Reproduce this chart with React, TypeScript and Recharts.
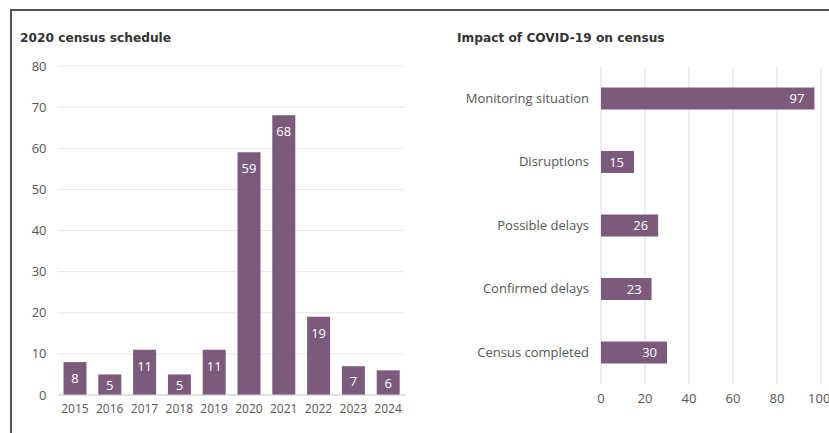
import React from 'react';
import { BarChart, Bar, XAxis, YAxis, CartesianGrid, LabelList } from 'recharts';

const years = ['2015', '2016', '2017', '2018', '2019', '2020', '2021', '2022', '2023', '2024'];
const censusCounts = [8, 5, 11, 5, 11, 59, 68, 19, 7, 6];
const scheduleTicks = [0, 10, 20, 30, 40, 50, 60, 70, 80];

const impactLabels = ['Monitoring situation', 'Disruptions', 'Possible delays', 'Confirmed delays', 'Census completed'];
const impactCounts = [97, 15, 26, 23, 30];
const impactTicks = [0, 20, 40, 60, 80, 100];

const scheduleData = years.map((y, i) => ({ year: y, value: censusCounts[i] }));
const impactData = impactLabels.map((n, i) => ({ name: n, value: impactCounts[i] }));

const BAR = '#7b5a7b';
const FONT = 'Open Sans';
const TICK_FONT = { fontFamily: FONT, fontSize: 13, fill: '#555' };

const TopLabel = (props: any) => {
  const { x, y, width, height, value } = props;
  const cy = Math.min(y + 16, y + height / 2);
  return (
    <text x={x + width / 2} y={cy} textAnchor="middle" dominantBaseline="central" fill="#fff" fontFamily={FONT} fontSize={13}>
      {value}
    </text>
  );
};

const titleStyle: React.CSSProperties = {
  position: 'absolute',
  fontFamily: 'DejaVu Sans',
  fontWeight: 'bold',
  fontSize: 12.2,
  color: '#333',
  lineHeight: '16px',
  top: 30,
  whiteSpace: 'nowrap',
};

export default function App() {
  return (
    <div style={{ position: 'absolute', left: 0, top: 0, width: 829, height: 433, overflow: 'hidden', background: '#fff' }}>
      <div style={{ position: 'absolute', left: 10, top: 9, width: 830, height: 430, borderTop: '2px solid #555', borderLeft: '2px solid #555' }} />
      <div style={{ ...titleStyle, left: 20 }}>2020 census schedule</div>
      <div style={{ ...titleStyle, left: 457 }}>Impact of COVID-19 on census</div>

      <div style={{ position: 'absolute', left: 0, top: 0 }}>
        <BarChart width={420} height={433} data={scheduleData} margin={{ top: 66, right: 14.5, left: 0, bottom: 8 }} barSize={23}>
          <CartesianGrid horizontal vertical={false} stroke="#e8e8e8" />
          <XAxis dataKey="year" tickLine={false} tickSize={0} tickMargin={9} axisLine={{ stroke: '#cfcfcf' }} height={30} tick={{ ...TICK_FONT, fontSize: 12 }} interval={0} />
          <YAxis type="number" domain={[0, 80]} ticks={scheduleTicks} width={57.5} axisLine={false} tickLine={false} tickSize={0} tickMargin={11} tick={TICK_FONT} />
          <Bar dataKey="value" fill={BAR} isAnimationActive={false}>
            <LabelList dataKey="value" content={TopLabel} />
          </Bar>
        </BarChart>
      </div>

      <div style={{ position: 'absolute', left: 420, top: 0 }}>
        <BarChart width={409} height={433} data={impactData} layout="vertical" margin={{ top: 66.5, right: 8, left: 0, bottom: 19 }} barSize={22}>
          <CartesianGrid horizontal={false} vertical stroke="#dcdcdc" />
          <XAxis type="number" domain={[0, 100]} ticks={impactTicks} axisLine={false} tickLine={false} tickSize={0} tickMargin={10} height={30} tick={TICK_FONT} />
          <YAxis type="category" dataKey="name" width={181} axisLine={false} tickLine={false} tickSize={0} tickMargin={12} tick={TICK_FONT} interval={0} />
          <Bar dataKey="value" fill={BAR} isAnimationActive={false}>
            <LabelList dataKey="value" position="insideRight" offset={10} fill="#fff" fontFamily={FONT} fontSize={13} />
          </Bar>
        </BarChart>
      </div>
    </div>
  );
}
